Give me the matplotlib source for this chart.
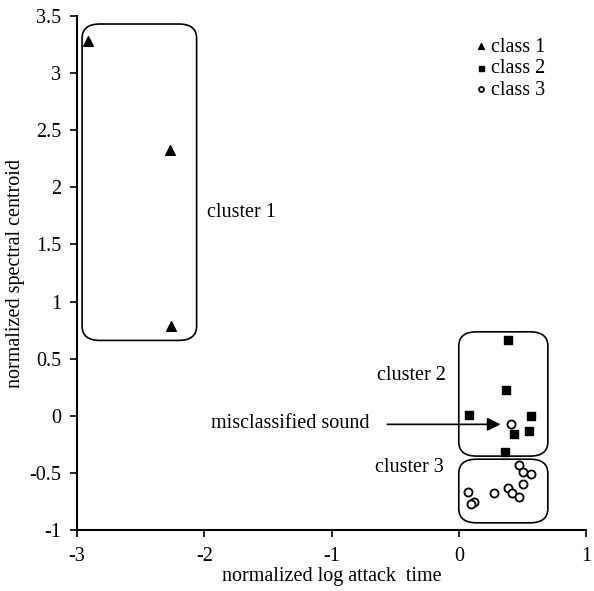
import matplotlib
matplotlib.use("Agg")
import matplotlib.pyplot as plt
from matplotlib.patches import FancyBboxPatch

plt.rcParams['font.family'] = ['Liberation Serif', 'DejaVu Serif']

class1_x = [-2.91, -2.27, -2.26]
class1_y = [3.28, 2.33, 0.785]
class2_x = [0.39, 0.37, 0.084, 0.57, 0.55, 0.435, 0.365]
class2_y = [0.665, 0.225, 0.01, 0.0, -0.13, -0.16, -0.315]
class3_x = [0.414, 0.474, 0.505, 0.564, 0.505, 0.383, 0.42, 0.474, 0.276, 0.076, 0.12, 0.094]
class3_y = [-0.075, -0.432, -0.496, -0.51, -0.60, -0.63, -0.68, -0.71, -0.68, -0.666, -0.753, -0.776]

xticks = [-3, -2, -1, 0, 1]
yticks = [-1, -0.5, 0, 0.5, 1, 1.5, 2, 2.5, 3, 3.5]

fig = plt.figure(figsize=(5.94, 5.91), dpi=100)
ax = fig.add_axes([0.1296, 0.1032, 0.857, 0.8697])

ax.scatter(class1_x, class1_y, marker='^', s=48, color='black', label='class 1', zorder=3)
ax.scatter(class2_x, class2_y, marker='s', s=36, color='black', label='class 2', zorder=3)
ax.scatter(class3_x, class3_y, marker='o', s=34, facecolors='white', edgecolors='black',
           linewidths=1.3, label='class 3', zorder=3)

boxes = [(-2.96, 0.66, 0.90, 2.77), (0.0, -0.353, 0.70, 1.088), (0.0, -0.937, 0.70, 0.557)]
for (bx, by, bw, bh) in boxes:
    p = FancyBboxPatch((bx, by), bw, bh, boxstyle="round,pad=0,rounding_size=0.14",
                       mutation_aspect=0.89, fill=False, edgecolor='black', linewidth=1.2,
                       zorder=2)
    ax.add_patch(p)

fs = 14.5
ax.text(-1.98, 1.784, 'cluster 1', fontsize=fs, va='center', ha='left')
ax.text(-0.64, 0.356, 'cluster 2', fontsize=fs, va='center', ha='left')
ax.text(-0.655, -0.45, 'cluster 3', fontsize=fs, va='center', ha='left')
ax.text(-1.948, -0.07, 'misclassified sound', fontsize=fs, va='center', ha='left')
ax.annotate('', xy=(0.35, -0.075), xytext=(-0.584, -0.075),
            arrowprops=dict(arrowstyle='-|>', color='black', lw=1.2, mutation_scale=20))

ax.set_xlim(-3, 1)
ax.set_ylim(-1, 3.5)
ax.set_xticks(xticks)
ax.set_yticks(yticks)
ax.set_xticklabels([f'{t:g}' for t in xticks], fontsize=fs)
ax.set_yticklabels([f'{t:g}' for t in yticks], fontsize=fs)
ax.set_xlabel('normalized log attack  time', fontsize=fs, labelpad=1)
ax.set_ylabel('normalized spectral centroid', fontsize=fs, labelpad=3)
for s in ['top', 'right']:
    ax.spines[s].set_visible(False)
for s in ['left', 'bottom']:
    ax.spines[s].set_linewidth(1.5)
ax.tick_params(axis='y', direction='out', length=5, width=1.2, pad=6.5)
ax.tick_params(axis='x', direction='out', length=5, width=1.2, pad=7)

leg = ax.legend(loc='upper left', bbox_to_anchor=(0.778, 0.958), frameon=False, fontsize=fs,
                handlelength=0.8, handletextpad=0.1, labelspacing=0.12, markerscale=0.6,
                borderpad=0, borderaxespad=0)

fig.savefig('out.png', dpi=100)
